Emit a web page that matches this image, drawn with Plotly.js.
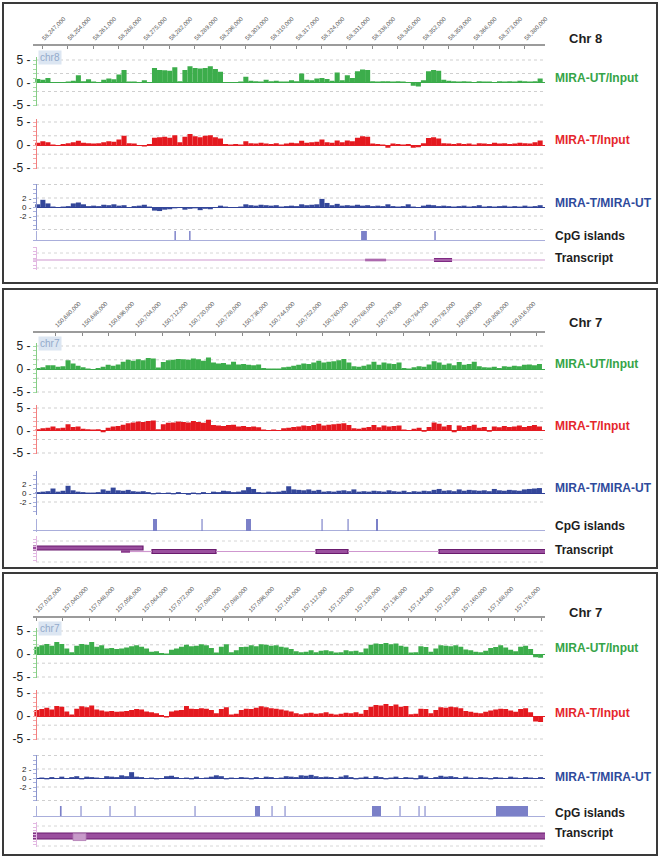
<!DOCTYPE html>
<html><head><meta charset="utf-8">
<script src="https://cdn.plot.ly/plotly-3.0.1.min.js"></script>
<style>html,body{margin:0;padding:0;background:#fff;}#chart{width:661px;height:859px;}</style>
</head><body><div id="chart"></div>
<script>
// ================= DATA =================
// Panel 1 : chr8
const p1Chrom = 'chr8';
const p1Title = 'Chr 8';
const p1Start = 58245000, p1Bin = 1400;
const p1TickVals = [58247000,58254000,58261000,58268000,58275000,58282000,58289000,58296000,58303000,58310000,58317000,58324000,58331000,58338000,58345000,58352000,58359000,58366000,58373000,58380000];
const p1TickText = ['58,247,000','58,254,000','58,261,000','58,268,000','58,275,000','58,282,000','58,289,000','58,296,000','58,303,000','58,310,000','58,317,000','58,324,000','58,331,000','58,338,000','58,345,000','58,352,000','58,359,000','58,366,000','58,373,000','58,380,000'];
const p1UT = [0.8,0.6,1.0,0.1,0.0,0.0,0.2,0.4,1.6,0.3,
 0.7,0.2,0.1,0.6,0.9,0.7,1.8,2.8,0.2,0.2,
 0.1,0.5,0.1,3.2,2.8,2.7,2.6,3.4,0.3,2.8,
 3.6,3.2,3.1,3.2,3.6,3.0,2.4,0.1,0.1,0.0,
 0.2,1.3,0.4,0.3,0.2,0.6,0.3,0.4,0.2,0.2,
 0.5,0.3,2.0,0.6,0.5,0.9,1.0,0.8,0.4,2.2,
 0.5,1.6,1.0,2.5,2.9,2.8,0.3,0.2,0.3,0.3,
 0.2,0.3,0.2,0.1,-0.7,-0.9,0.5,2.5,2.8,2.6,
 0.6,0.4,0.3,0.2,0.3,0.2,0.1,0.3,0.2,0.2,
 0.1,0.3,0.2,0.3,0.2,0.4,0.3,0.2,0.3,0.9];
const p1T = [0.5,0.8,0.6,0.1,0.0,0.2,0.4,0.6,0.9,0.5,
 0.4,0.3,0.4,0.6,0.8,0.7,1.2,2.0,0.4,0.3,
 -0.2,-0.3,0.2,1.6,1.7,1.8,1.6,2.1,0.6,1.8,
 2.4,1.9,1.7,2.0,2.1,1.7,1.4,0.2,0.1,0.2,
 0.1,0.8,0.4,0.3,0.5,0.3,0.2,0.4,0.1,0.3,
 0.5,0.4,0.9,0.5,0.6,0.7,1.2,0.6,0.5,1.0,
 0.6,1.0,0.8,1.6,1.9,1.8,0.3,0.2,0.1,-0.6,
 0.3,0.2,0.1,0.2,-0.6,-0.5,0.4,1.5,1.7,1.4,
 0.4,0.3,0.2,0.4,0.2,0.3,0.1,0.4,0.3,0.2,
 0.5,0.3,0.4,0.2,0.3,0.5,0.4,0.3,0.6,1.0];
const p1TvsUT = [0.6,1.6,0.8,0.1,0.0,0.1,0.2,0.8,1.0,0.6,
 0.2,0.3,0.2,0.5,0.4,0.6,0.3,0.4,-0.2,0.2,
 0.3,0.5,0.1,-0.8,-0.9,-0.6,-0.5,-0.3,-0.2,-0.6,
 -0.4,-0.3,-0.7,-0.4,-0.5,-0.2,0.3,0.1,0.0,0.0,
 0.1,0.6,0.4,0.3,0.5,0.4,0.3,0.4,0.1,0.2,
 0.3,0.2,0.6,0.4,0.5,0.6,1.8,0.9,0.4,0.7,
 0.3,0.4,0.3,0.5,0.3,0.4,0.2,0.3,0.2,0.6,
 0.2,0.1,0.2,0.6,0.1,0.0,0.3,0.5,0.4,0.2,
 0.3,0.2,0.1,0.2,0.3,0.1,0.2,0.4,0.1,0.2,
 0.1,0.2,0.3,0.1,0.2,0.1,0.3,0.1,0.2,0.4];
const p1CpgStart = [58283400,58287450,58334900,58355100];
const p1CpgEnd   = [58283800,58287850,58336500,58355500];
const p1TxStart = [58244000,58336000,58355000];
const p1TxEnd   = [58386000,58341800,58360000];
const p1TxLane  = [0,0,0];
const p1TxKind  = ['intron','utr','exon'];

// Panel 2 : chr7 (150.67-150.83 Mb)
const p2Chrom = 'chr7';
const p2Title = 'Chr 7';
const p2Start = 150674000, p2Bin = 1500;
const p2TickVals = [150680000,150688000,150696000,150704000,150712000,150720000,150728000,150736000,150744000,150752000,150760000,150768000,150776000,150784000,150792000,150800000,150808000,150816000,150824000];
const p2TickText = ['150,680,000','150,688,000','150,696,000','150,704,000','150,712,000','150,720,000','150,728,000','150,736,000','150,744,000','150,752,000','150,760,000','150,768,000','150,776,000','150,784,000','150,792,000','150,800,000','150,808,000','150,816,000',''];
const p2UT = [0.2,0.4,0.8,0.8,0.5,0.6,1.9,1.2,0.7,0.4,
 0.1,0.0,0.2,0.5,0.9,0.7,1.0,1.6,2.0,1.8,
 2.1,1.9,2.4,2.3,0.3,1.5,1.9,2.0,2.2,2.1,
 2.0,2.3,2.1,1.8,2.5,1.4,1.2,1.3,1.0,1.6,
 1.0,1.1,0.9,0.8,1.0,0.2,0.1,0.1,0.1,0.4,
 0.5,0.7,0.9,1.2,1.1,1.4,1.8,1.4,1.6,1.7,
 1.9,2.2,1.4,0.6,0.5,0.7,1.0,1.6,0.9,1.4,
 1.2,1.1,1.4,0.2,0.1,0.4,0.6,0.5,1.0,1.7,
 1.4,0.9,1.2,0.8,1.5,0.9,1.1,1.6,0.6,0.4,
 0.3,0.5,0.2,0.6,0.5,0.7,0.6,0.9,1.0,0.8,
 1.1];
const p2T = [0.3,0.5,0.6,0.9,0.5,0.6,1.4,0.8,0.9,0.4,
 0.3,0.2,0.3,-0.4,0.6,0.9,1.0,1.3,1.6,1.8,
 2.0,1.9,2.1,2.2,0.3,1.4,1.7,1.8,2.0,1.9,
 1.8,2.1,1.9,1.7,2.4,1.2,1.1,1.0,1.2,1.3,
 0.9,1.0,0.8,0.9,0.7,0.2,0.1,0.2,0.1,0.5,
 0.6,0.8,0.9,1.1,1.0,1.2,1.5,1.1,1.3,1.4,
 1.5,1.6,1.2,0.5,0.4,0.6,0.8,1.2,0.7,1.1,
 0.9,1.0,1.1,0.2,0.1,0.4,0.6,-0.3,0.8,1.8,
 1.5,0.9,1.2,-0.4,1.1,0.8,1.0,1.3,0.6,0.8,
 -0.3,0.9,0.7,1.0,0.8,0.9,1.1,0.8,1.0,1.2,
 0.9];
const p2TvsUT = [0.2,0.3,0.4,1.0,0.3,0.5,1.6,0.6,0.3,0.2,
 0.1,0.1,0.2,0.8,0.5,1.2,0.6,0.5,0.7,0.4,
 0.3,0.4,0.2,-0.3,0.1,-0.2,0.1,-0.3,0.2,-0.2,
 -0.4,0.1,-0.3,0.2,-0.2,0.3,0.2,0.5,0.4,0.2,
 0.3,0.6,1.3,0.9,0.2,0.1,0.3,0.2,0.3,0.5,
 1.5,0.8,0.7,0.6,0.8,0.5,0.7,0.3,0.4,0.3,
 0.5,0.6,0.4,0.8,0.3,0.4,0.3,0.5,0.4,0.3,
 0.6,0.4,0.3,0.5,0.2,0.4,0.3,0.5,0.4,0.7,
 0.9,0.5,0.6,0.4,0.8,0.5,0.7,0.6,0.5,0.6,
 0.4,0.9,0.6,0.5,0.7,0.6,0.5,0.8,0.9,1.0,
 1.1];
const p2CpgStart = [150709160,150723650,150736980,150759550,150767330,150775860];
const p2CpgEnd   = [150710360,150724000,150738470,150759900,150767680,150776460];
const p2TxStart = [150673000,150702280,150728010,150767490,150699590,150708860,150757920,150794700];
const p2TxEnd   = [150706170,150708860,150757920,150794700,150702280,150728010,150767490,150827000];
const p2TxLane  = [0,1,1,1,1,1,1,1];
const p2TxKind  = ['exon','intron','intron','intron','utr','exon','exon','exon'];

// Panel 3 : chr7 (157.03-157.19 Mb)
const p3Chrom = 'chr7';
const p3Title = 'Chr 7';
const p3Start = 157031500, p3Bin = 1500;
const p3TickVals = [157032000,157040000,157048000,157056000,157064000,157072000,157080000,157088000,157096000,157104000,157112000,157120000,157128000,157136000,157144000,157152000,157160000,157168000,157176000,157184000];
const p3TickText = ['157,032,000','157,040,000','157,048,000','157,056,000','157,064,000','157,072,000','157,080,000','157,088,000','157,096,000','157,104,000','157,112,000','157,120,000','157,128,000','157,136,000','157,144,000','157,152,000','157,160,000','157,168,000','157,176,000',''];
const p3UT = [1.6,1.9,2.2,1.8,2.6,2.2,1.2,0.4,1.8,2.2,
 2.0,2.6,1.6,1.9,1.2,1.3,1.1,1.2,1.4,1.7,
 1.9,1.6,1.2,0.5,0.6,0.2,0.1,0.9,1.2,1.6,
 2.0,1.7,1.8,2.1,1.9,1.3,0.3,1.6,2.1,0.4,
 0.8,1.5,1.6,1.9,1.7,2.1,2.0,1.8,1.9,1.6,
 1.4,1.1,0.6,0.4,0.5,0.8,0.4,0.7,0.8,0.6,
 0.3,0.4,0.8,0.6,0.7,0.4,1.2,2.0,2.3,2.2,
 2.4,2.1,2.3,1.8,1.6,0.3,0.4,1.7,1.5,0.5,
 1.2,1.9,1.8,1.7,1.9,1.6,1.0,0.8,0.5,0.4,
 0.7,1.3,1.5,1.9,1.4,0.9,0.6,1.6,1.8,1.1,
 -0.7,-0.8];
const p3T = [1.3,1.5,1.8,1.4,2.2,2.0,1.0,0.3,1.6,2.1,
 1.9,2.3,1.4,1.2,1.0,1.1,0.9,1.0,1.1,1.3,
 1.5,1.4,1.0,0.8,0.6,0.2,-0.3,1.0,1.2,1.3,
 2.2,1.6,1.5,1.7,1.6,1.3,0.6,1.5,1.9,0.3,
 0.5,1.3,1.6,1.5,1.8,2.1,1.9,1.7,1.6,1.4,
 1.2,1.0,0.6,0.4,0.6,0.7,0.5,0.6,0.8,0.5,
 0.3,0.5,0.7,0.6,0.8,0.5,1.3,2.0,2.4,2.3,
 2.6,2.2,2.5,2.0,2.2,0.4,0.5,1.6,1.5,0.6,
 1.3,1.9,1.8,2.0,1.9,1.7,1.1,0.9,0.7,0.6,
 0.9,1.2,1.4,1.6,1.5,1.2,0.9,1.5,1.7,0.8,
 -1.2,-1.3];
const p3TvsUT = [-0.2,0.1,-0.3,0.2,-0.1,0.3,-0.2,0.2,0.4,-0.3,
 0.3,0.2,0.1,-0.2,0.4,0.3,0.2,0.6,0.4,1.3,
 0.3,0.2,-0.2,0.1,-0.3,-0.1,0.4,0.5,0.2,-0.2,
 0.1,-0.3,0.3,-0.2,0.1,0.3,0.6,0.4,-0.3,0.1,
 -0.2,0.2,0.1,-0.3,0.2,-0.1,0.3,0.2,-0.2,0.1,
 0.4,0.3,0.2,0.6,0.5,0.7,0.4,0.2,0.3,0.2,
 -0.2,0.3,0.6,0.2,-0.3,0.1,0.3,-0.2,0.4,0.2,
 -0.3,0.1,0.3,-0.2,0.2,0.1,-0.3,0.6,0.3,-0.2,
 0.2,0.5,0.3,0.4,0.2,-0.2,0.3,0.1,-0.2,0.2,
 0.1,-0.3,0.2,0.1,-0.2,0.3,0.1,-0.2,0.2,0.1,
 -0.1,0.2];
const p3CpgStart = [157039200,157045380,157054100,157061620,157079670,157097860,157102830,157106740,157133050,157141320,157147040,157148840,157170345];
const p3CpgEnd   = [157039700,157045700,157054420,157061940,157079990,157099370,157103150,157107060,157135760,157141640,157147360,157149160,157179970];
const p3TxStart = [157031000,157043130];
const p3TxEnd   = [157185500,157047040];
const p3TxLane  = [0,0];
const p3TxKind  = ['exon','alt'];

const trackNames = ['MIRA-UT/Input','MIRA-T/Input','MIRA-T/MIRA-UT','CpG islands','Transcript'];

// ================= LAYOUT / STYLE =================
const W=661,H=859;
const fx = px => px/W, fy = py => 1-py/H;
const FONT = 'Liberation Sans, Arial, Helvetica, sans-serif';

const panels = [
 {chrom:p1Chrom,title:p1Title,start:p1Start,bin:p1Bin,ut:p1UT,t:p1T,tut:p1TvsUT,cs:p1CpgStart,ce:p1CpgEnd,
  txs:p1TxStart,txe:p1TxEnd,txl:p1TxLane,txk:p1TxKind,tv:p1TickVals,tt:p1TickText,range:[58244379,58385640],
  g:{box:[3,3,657,283],axisY:45,tagY:57,green:[60,105],red:[122,168],blue:[207,184,230],cpg:[231,240],tx:[247,270],txC:260,txU:3.5,exonPx:4,utrPx:2.5,altPx:7,
     lab:[78,140,203,236,258],chrY:38,txGrid:[253,268]}},
 {chrom:p2Chrom,title:p2Title,start:p2Start,bin:p2Bin,ut:p2UT,t:p2T,tut:p2TvsUT,cs:p2CpgStart,ce:p2CpgEnd,
  txs:p2TxStart,txe:p2TxEnd,txl:p2TxLane,txk:p2TxKind,tv:p2TickVals,tt:p2TickText,range:[150673270,150826409],
  g:{box:[3,289,657,568],axisY:332,tagY:343,green:[346,392],red:[408,453],blue:[493,471,515],cpg:[519,531],tx:[536,562],txC:548,txU:3.5,exonPx:4,utrPx:2.5,altPx:7,
     lab:[364,426,488,526,550],chrY:323,txGrid:[541,562]}},
 {chrom:p3Chrom,title:p3Title,start:p3Start,bin:p3Bin,ut:p3UT,t:p3T,tut:p3TvsUT,cs:p3CpgStart,ce:p3CpgEnd,
  txs:p3TxStart,txe:p3TxEnd,txl:p3TxLane,txk:p3TxKind,tv:p3TickVals,tt:p3TickText,range:[157031098,157185082],
  g:{box:[3,573,657,855],axisY:617,tagY:628,green:[631,677],red:[693,739],blue:[778,755,801],cpg:[806,816],tx:[822,847],txC:836,txU:3.5,exonPx:6,utrPx:2.5,altPx:7,
     lab:[648,713,777,813,833],chrY:612,txGrid:[826,846]}}
];

const sigStyle = [
 {bar:'#3cad4b', line:'#86cc86', minor:'#a6dca6', zero:'#3aa84a', label:'#35a447'},
 {bar:'#e4191f', line:'#f28080', minor:'#f5a8a8', zero:'#e41f26', label:'#e5262c'},
 {bar:'#34479a', line:'#8a94cc', minor:'#aab1dc', zero:'#2f4197', label:'#2f4a9c'}
];

const traces=[];
const layout = {width:W,height:H,margin:{l:0,r:0,t:0,b:0},paper_bgcolor:'#ffffff',plot_bgcolor:'rgba(0,0,0,0)',
  showlegend:false,barmode:'overlay',shapes:[],annotations:[]};

panels.forEach((P,k)=>{
  const G=P.g;
  const xs = 'x'+(k?k+1:''), xKey='xaxis'+(k?k+1:'');
  layout.shapes.push({type:'rect',xref:'paper',yref:'paper',x0:fx(G.box[0]),x1:fx(G.box[2]),y0:fy(G.box[3]),y1:fy(G.box[1]),
     line:{color:'#3a3a3a',width:2},fillcolor:'#ffffff',layer:'below'});
  layout[xKey] = {domain:[fx(33),fx(545)],range:P.range,anchor:'free',position:fy(G.axisY),side:'top',
     showline:true,linecolor:'#9b9b9b',linewidth:2,ticks:'inside',ticklen:3,tickcolor:'#8a8a8a',
     tickvals:P.tv,ticktext:P.tt,tickangle:-45,tickfont:{family:FONT,size:6,color:'#555'},
     showgrid:false,zeroline:false,fixedrange:true};
  const ynum = t => k*5+t+1;
  const yName = t => 'y'+(ynum(t)>1?ynum(t):'');
  const yKey = t => 'yaxis'+(ynum(t)>1?ynum(t):'');
  const sig = [P.ut,P.t,P.tut];
  sig.forEach((vals,t)=>{
    const S=sigStyle[t];
    let dom, rng, tv, tt, fs;
    if(t<2){
      const pp = t===0?G.green:G.red; const s=(pp[1]-pp[0])/10;
      rng=[-5.3,5.6]; dom=[fy(pp[1]+0.3*s),fy(pp[0]-0.6*s)]; tv=[-5,0,5]; tt=['-5 -','0 -','5 -']; fs=12;
    } else {
      const c=G.blue[0], top=G.blue[1], bot=G.blue[2], s=4.5;
      rng=[(c-bot)/s,(c-top)/s]; dom=[fy(bot),fy(top)]; tv=[-2,0,2]; tt=['-2 -','0 -','2 -']; fs=8;
    }
    layout[yKey(t)] = {domain:dom,range:rng,anchor:'free',position:fx(36),side:'left',showline:true,linecolor:S.line,linewidth:1,
      tickvals:tv,ticktext:tt,ticks:'',tickfont:{family:FONT,size:fs,color:'#222'},ticklabelstandoff:3,
      minor:{dtick:1,tick0:0,ticks:'outside',ticklen:3,tickcolor:S.minor,tickwidth:1,showgrid:false},
      showgrid:false,zeroline:true,zerolinecolor:S.zero,zerolinewidth:1,fixedrange:true};
    [5,2,-2,-5].forEach(v=>{ if(v<=rng[1] && v>=rng[0]) layout.shapes.push({type:'line',xref:'paper',yref:yName(t),x0:fx(36),x1:fx(545),y0:v,y1:v,
      line:{color:'#cfcfcf',width:1,dash:'dot'},layer:'below'}); });
    const xsArr = vals.map((v,i)=>P.start+P.bin*(i+0.5));
    traces.push({type:'bar',x:xsArr,y:vals,width:P.bin,xaxis:xs,yaxis:yName(t),marker:{color:S.bar,line:{width:0}},hoverinfo:'skip'});
    layout.annotations.push({xref:'paper',yref:'paper',x:fx(553),y:fy(G.lab[t]),xanchor:'left',yanchor:'middle',showarrow:false,
      text:trackNames[t],font:{family:FONT,size:12,color:S.label,weight:'bold'}});
  });
  // CpG track
  layout[yKey(3)] = {domain:[fy(G.cpg[1]+0.5),fy(G.cpg[0])],range:[-0.05,1],anchor:'free',position:fx(36),showline:true,linecolor:'#a9aedb',linewidth:1,
     showticklabels:false,ticks:'',showgrid:false,zeroline:true,zerolinecolor:'#a9aedb',zerolinewidth:1,fixedrange:true};
  traces.push({type:'bar',x:P.cs.map((s,i)=>(s+P.ce[i])/2),width:P.cs.map((s,i)=>P.ce[i]-s),y:P.cs.map(()=>1),base:0,
     xaxis:xs,yaxis:yName(3),marker:{color:'#7b80c8',line:{width:0}},hoverinfo:'skip'});
  layout.annotations.push({xref:'paper',yref:'paper',x:fx(553),y:fy(G.lab[3]),xanchor:'left',yanchor:'middle',showarrow:false,
      text:trackNames[3],font:{family:FONT,size:12,color:'#1e1e1e',weight:'bold'}});
  // Transcript track
  const U=G.txU, top=G.tx[0], bot=G.tx[1];
  layout[yKey(4)] = {domain:[fy(bot),fy(top)],range:[(G.txC-bot)/U,(G.txC-top)/U],anchor:'free',position:fx(36),showline:true,linecolor:'#e2b8e2',linewidth:1,
     showticklabels:false,ticks:'',minor:{dtick:1,tick0:0.5,ticks:'outside',ticklen:3,tickcolor:'#e2b8e2',tickwidth:1,showgrid:false},
     showgrid:false,zeroline:false,fixedrange:true};
  G.txGrid.forEach(py=>layout.shapes.push({type:'line',xref:'paper',yref:'paper',x0:fx(36),x1:fx(545),y0:fy(py),y1:fy(py),
      line:{color:'#d6d6d6',width:1,dash:'dot'},layer:'below'}));
  const ix=[],iy=[];
  const kinds = {exon:{x:[],w:[],b:[],h:[]},utr:{x:[],w:[],b:[],h:[]},alt:{x:[],w:[],b:[],h:[]}};
  P.txs.forEach((s,i)=>{
    const e=P.txe[i], lane=-P.txl[i], kd=P.txk[i];
    if(kd==='intron'){ ix.push(s,e,null); iy.push(lane,lane,null); return; }
    const hPx = kd==='exon'?G.exonPx:(kd==='utr'?G.utrPx:G.altPx);
    const K=kinds[kd]; const h=hPx/U;
    K.x.push((s+e)/2); K.w.push(e-s); K.b.push(lane-h/2 - (kd==='alt'?0.3:0)); K.h.push(h);
  });
  if(ix.length) traces.push({type:'scatter',mode:'lines',x:ix,y:iy,xaxis:xs,yaxis:yName(4),line:{color:'#cf97cf',width:1.2},hoverinfo:'skip'});
  const kStyle = {exon:{color:k===0?'#7e2a82':'#9a4f9e',line:{color:'#6a1a6e',width:k===0?0:1.2}},
                  utr:{color:'#8a3a8c',line:{color:'#8a3a8c',width:0}},
                  alt:{color:'#c79ac9',line:{color:'#b07ab2',width:0.8}}};
  ['exon','utr','alt'].forEach(kd=>{ const K=kinds[kd]; if(!K.x.length) return;
    traces.push({type:'bar',x:K.x,width:K.w,y:K.h,base:K.b,xaxis:xs,yaxis:yName(4),marker:kStyle[kd],hoverinfo:'skip'}); });
  layout.annotations.push({xref:'paper',yref:'paper',x:fx(553),y:fy(G.lab[4]),xanchor:'left',yanchor:'middle',showarrow:false,
      text:trackNames[4],font:{family:FONT,size:12,color:'#1e1e1e',weight:'bold'}});
  layout.annotations.push({xref:'paper',yref:'paper',x:fx(567),y:fy(G.chrY),xanchor:'left',yanchor:'middle',showarrow:false,
      text:P.title,font:{family:FONT,size:13,color:'#1e1e1e',weight:'bold'}});
  layout.annotations.push({xref:'paper',yref:'paper',x:fx(38),y:fy(G.tagY),xanchor:'left',yanchor:'middle',showarrow:false,
      text:P.chrom,font:{family:FONT,size:10,color:'#93aacb'},bgcolor:'#dce6f2',borderpad:1});
});

Plotly.newPlot('chart',traces,layout,{staticPlot:true,displayModeBar:false});
</script>
</body></html>
